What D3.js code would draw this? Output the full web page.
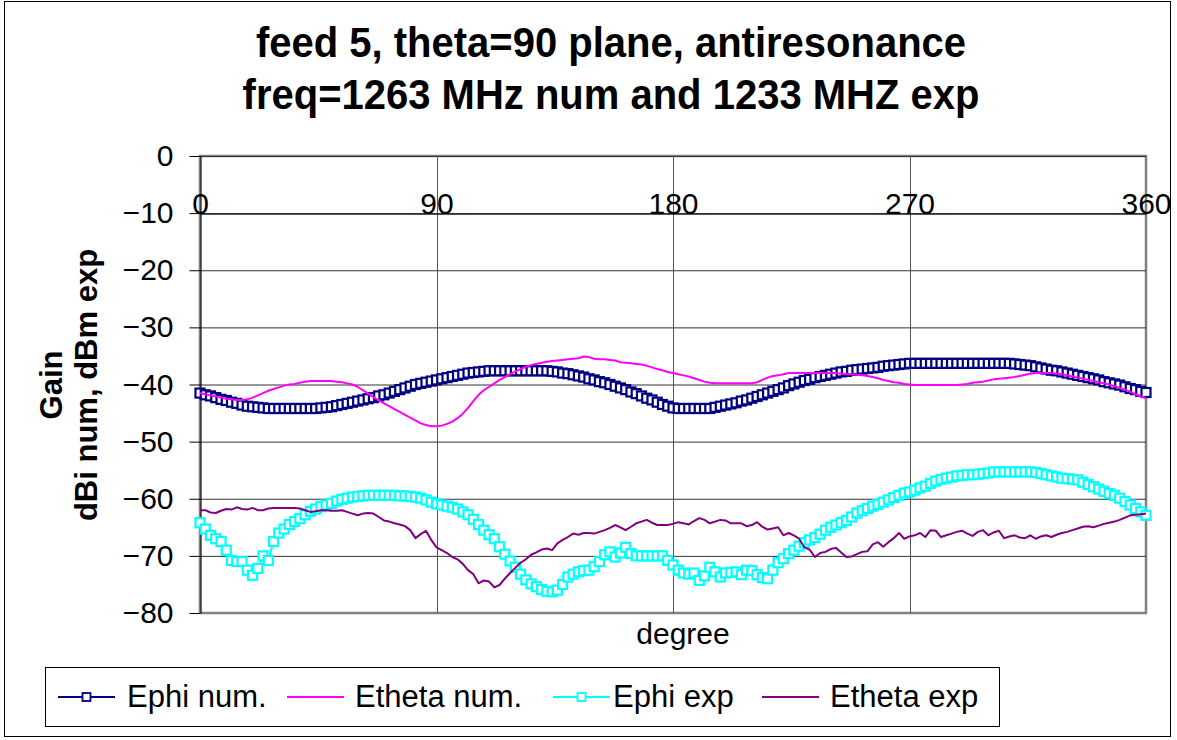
<!DOCTYPE html>
<html><head><meta charset="utf-8">
<script src="https://cdn.jsdelivr.net/npm/d3@7"></script>
<style>
body{margin:0;background:#fff}
svg{display:block}
text{font-family:"Liberation Sans",Arial,sans-serif;fill:#000}
</style>
</head><body>
<svg id="c" width="1177" height="740"></svg>
<script>
const titleLines = ["feed 5, theta=90 plane, antiresonance", "freq=1263 MHz num and 1233 MHZ exp"];
const yLabelLines = ["Gain", "dBi num, dBm exp"];
const xLabel = "degree";
const xTicks = [0, 90, 180, 270, 360];
const yTicks = [0, -10, -20, -30, -40, -50, -60, -70, -80];
const seriesNames = ["Ephi num.", "Etheta num.", "Ephi exp", "Etheta exp"];
const angles = d3.range(0, 361, 2);

const ephiNum = [
-41.5,-41.8,-42.0,-42.3,-42.6,-42.8,-43.1,-43.3,-43.6,-43.8,-43.9,-44.0,-44.1,-44.2,-44.2,
-44.2,-44.2,-44.2,-44.2,-44.2,-44.2,-44.2,-44.2,-44.1,-44.0,-43.9,-43.7,-43.5,-43.3,-43.1,
-42.9,-42.7,-42.5,-42.3,-42.0,-41.8,-41.5,-41.2,-40.9,-40.6,-40.3,-40.0,-39.8,-39.6,-39.4,
-39.2,-39.0,-38.8,-38.6,-38.4,-38.2,-38.0,-37.9,-37.8,-37.7,-37.6,-37.6,-37.6,-37.6,-37.6,
-37.6,-37.6,-37.6,-37.6,-37.6,-37.6,-37.6,-37.7,-37.8,-38.0,-38.1,-38.3,-38.5,-38.7,-39.0,
-39.2,-39.5,-39.7,-40.0,-40.3,-40.6,-40.9,-41.3,-41.6,-42.0,-42.4,-42.7,-43.1,-43.5,-43.8,
-44.1,-44.2,-44.2,-44.2,-44.2,-44.2,-44.2,-44.2,-44.0,-43.8,-43.6,-43.4,-43.2,-42.9,-42.7,
-42.4,-42.1,-41.8,-41.5,-41.2,-40.9,-40.6,-40.2,-39.9,-39.6,-39.3,-39.1,-38.8,-38.6,-38.4,
-38.2,-38.0,-37.8,-37.7,-37.5,-37.4,-37.3,-37.2,-37.1,-37.0,-36.8,-36.7,-36.6,-36.5,-36.4,
-36.3,-36.3,-36.3,-36.3,-36.3,-36.3,-36.3,-36.3,-36.3,-36.3,-36.3,-36.3,-36.3,-36.3,-36.3,
-36.3,-36.3,-36.3,-36.3,-36.3,-36.4,-36.5,-36.6,-36.7,-36.9,-37.1,-37.3,-37.5,-37.6,-37.8,
-38.0,-38.2,-38.4,-38.6,-38.8,-39.0,-39.2,-39.5,-39.7,-39.9,-40.1,-40.4,-40.7,-40.9,-41.2,
-41.4];

const ethetaNum = [
-41.5,-41.7,-41.9,-42.1,-42.3,-42.5,-42.6,-42.7,-42.7,-42.6,-42.3,-41.9,-41.5,-41.1,-40.8,
-40.5,-40.2,-40.0,-39.9,-39.7,-39.5,-39.4,-39.4,-39.4,-39.4,-39.4,-39.5,-39.6,-39.8,-40.0,
-40.4,-41.0,-41.6,-42.2,-42.8,-43.3,-43.8,-44.3,-44.8,-45.3,-45.8,-46.3,-46.8,-47.1,-47.3,
-47.3,-47.2,-46.9,-46.5,-45.9,-45.1,-44.1,-42.9,-41.8,-41.0,-40.4,-39.8,-39.2,-38.7,-38.2,
-37.7,-37.3,-36.9,-36.6,-36.4,-36.2,-36.0,-35.9,-35.8,-35.7,-35.6,-35.5,-35.4,-35.1,-35.2,
-35.5,-35.6,-35.6,-35.7,-35.8,-36.1,-36.2,-36.3,-36.4,-36.5,-36.7,-37.0,-37.3,-37.5,-37.8,
-38.0,-38.2,-38.4,-38.6,-38.9,-39.2,-39.5,-39.7,-39.8,-39.8,-39.8,-39.8,-39.8,-39.8,-39.8,
-39.8,-39.6,-39.2,-38.8,-38.5,-38.4,-38.2,-38.0,-38.0,-38.0,-38.0,-38.0,-38.0,-38.0,-38.0,
-38.0,-38.0,-38.1,-38.2,-38.2,-38.3,-38.4,-38.5,-38.7,-38.9,-39.2,-39.4,-39.6,-39.7,-39.9,
-40.0,-40.1,-40.1,-40.1,-40.1,-40.1,-40.1,-40.1,-40.1,-40.1,-40.0,-39.9,-39.7,-39.6,-39.5,
-39.3,-39.1,-39.0,-38.9,-38.8,-38.7,-38.5,-38.3,-38.1,-38.0,-38.0,-38.0,-38.0,-38.1,-38.2,
-38.4,-38.6,-38.8,-39.0,-39.2,-39.4,-39.6,-39.8,-40.0,-40.3,-40.6,-40.9,-41.3,-41.7,-42.1,
-42.4];

const ephiExp = [
-64.2,-65.3,-66.4,-67.0,-67.5,-69.0,-70.8,-71.0,-71.0,-72.5,-73.4,-72.2,-70.0,-70.8,-67.5,
-66.0,-65.3,-64.5,-64.0,-63.5,-62.8,-62.2,-61.8,-61.4,-61.1,-60.8,-60.4,-60.1,-59.9,-59.7,
-59.6,-59.5,-59.4,-59.4,-59.4,-59.4,-59.4,-59.4,-59.5,-59.5,-59.6,-59.7,-59.9,-60.2,-60.6,
-60.9,-61.1,-61.3,-61.5,-61.8,-62.3,-62.8,-63.6,-64.5,-65.5,-66.3,-67.0,-68.4,-69.7,-70.9,
-72.0,-73.2,-74.2,-74.9,-75.4,-75.9,-76.2,-76.3,-76.0,-75.0,-73.7,-73.2,-72.8,-72.6,-72.5,
-71.9,-71.0,-69.8,-69.3,-70.2,-69.5,-68.5,-69.6,-70.0,-70.0,-70.0,-70.0,-70.0,-70.0,-70.8,
-71.6,-72.5,-73.0,-73.2,-73.0,-74.3,-73.5,-72.0,-72.8,-73.7,-73.0,-72.9,-72.8,-73.3,-72.5,
-72.6,-73.3,-73.8,-74.0,-72.5,-71.2,-70.5,-69.6,-69.0,-68.3,-67.7,-67.2,-66.8,-66.2,-65.5,
-65.0,-64.6,-64.2,-63.8,-63.2,-62.5,-62.1,-61.7,-61.3,-61.0,-60.6,-60.2,-59.8,-59.4,-59.0,
-58.8,-58.5,-58.1,-57.8,-57.3,-56.9,-56.6,-56.4,-56.2,-56.0,-55.9,-55.8,-55.8,-55.7,-55.6,
-55.5,-55.3,-55.3,-55.3,-55.3,-55.3,-55.3,-55.3,-55.3,-55.4,-55.6,-55.8,-56.0,-56.2,-56.4,
-56.5,-56.6,-56.7,-57.1,-57.5,-57.9,-58.3,-58.7,-59.1,-59.4,-59.9,-60.5,-61.1,-61.7,-62.3,
-62.9];

const ethetaExp = [
-62.0,-62.0,-62.4,-62.5,-62.1,-61.8,-61.9,-61.5,-61.8,-61.9,-61.6,-62.0,-62.0,-61.7,-61.6,
-61.6,-61.6,-61.6,-61.6,-61.7,-62.0,-62.3,-62.2,-62.0,-62.0,-62.1,-62.1,-62.0,-62.3,-62.6,
-62.9,-62.6,-62.5,-62.6,-63.2,-63.8,-64.0,-64.3,-64.5,-64.8,-65.5,-66.9,-66.2,-65.6,-67.2,
-68.5,-69.0,-69.5,-70.2,-70.6,-71.4,-72.5,-73.2,-74.8,-74.3,-74.5,-75.5,-75.1,-74.0,-73.0,
-72.1,-71.2,-70.6,-69.8,-69.4,-68.9,-68.7,-69.0,-67.8,-67.2,-66.7,-66.1,-66.3,-66.0,-66.0,
-66.1,-65.8,-65.5,-65.1,-64.6,-65.0,-65.5,-64.9,-64.3,-64.0,-63.7,-64.2,-64.6,-64.6,-64.6,
-64.4,-64.1,-64.3,-64.5,-63.9,-63.4,-63.7,-64.3,-64.0,-63.7,-63.8,-64.3,-64.3,-64.3,-64.8,
-64.6,-64.1,-64.9,-65.4,-65.2,-65.0,-66.4,-66.0,-66.4,-67.0,-68.5,-68.9,-70.2,-69.5,-69.3,
-68.8,-68.6,-69.4,-70.2,-70.1,-69.7,-69.3,-69.2,-68.0,-67.6,-68.4,-67.6,-66.9,-66.0,-67.0,
-66.6,-66.4,-66.0,-66.7,-65.5,-65.6,-66.7,-66.4,-66.1,-65.8,-65.6,-66.1,-66.5,-65.8,-65.5,
-66.4,-65.9,-65.6,-66.9,-66.6,-66.4,-66.8,-66.9,-66.4,-67.0,-66.6,-66.4,-66.7,-66.3,-66.0,
-65.8,-65.5,-65.2,-64.9,-64.8,-65.0,-64.7,-64.4,-64.2,-64.0,-63.7,-63.3,-62.9,-62.8,-62.7,
-62.6];

const seriesColors = ["#000080", "#FF00FF", "#00FFFF", "#800080"];
const seriesMarkers = [true, false, true, false];
const seriesValues = [ephiNum, ethetaNum, ephiExp, ethetaExp];

const svg = d3.select("#c");
const L = 200, R = 1146, T = 156, B = 613;
const x = d3.scaleLinear().domain([0, 360]).range([L, R]);
const y = d3.scaleLinear().domain([-80, 0]).range([B, T]);

svg.append("rect").attr("x", 0).attr("y", 0).attr("width", 1177).attr("height", 740).attr("fill", "#fff");
svg.append("rect").attr("x", 4.5).attr("y", 1.5).attr("width", 1166).attr("height", 735)
  .attr("fill", "none").attr("stroke", "#000").attr("stroke-width", 1);

// title
svg.append("g").selectAll("text").data(titleLines).join("text")
  .attr("transform", (d, i) => `translate(611,${57 + i * 52}) scale(1,1.08)`)
  .attr("text-anchor", "middle").attr("font-size", 40).attr("font-weight", "bold")
  .text(d => d);

// plot area border
svg.append("rect").attr("x", L).attr("y", T).attr("width", R - L).attr("height", B - T)
  .attr("fill", "#fff").attr("stroke", "#808080").attr("stroke-width", 2.5);

// gridlines
svg.append("g").selectAll("line").data(yTicks.filter(v => v !== -80)).join("line")
  .attr("x1", L).attr("x2", R).attr("y1", d => y(d) + 0.5).attr("y2", d => y(d) + 0.5)
  .attr("stroke", "#333").attr("stroke-width", 1);
svg.append("g").selectAll("line").data(xTicks.filter(v => v > 0 && v < 360)).join("line")
  .attr("x1", d => Math.round(x(d)) + 0.5).attr("x2", d => Math.round(x(d)) + 0.5)
  .attr("y1", T).attr("y2", B).attr("stroke", "#555").attr("stroke-width", 1);

// y axis
const yAxis = svg.append("g").attr("transform", `translate(${L + 0.5},0)`)
  .call(d3.axisLeft(y).tickValues(yTicks).tickSize(11).tickSizeOuter(0).tickPadding(16).tickFormat(d3.format("d")));
yAxis.selectAll("text").attr("font-size", 30).attr("font-family", "Liberation Sans, Arial, sans-serif");
yAxis.selectAll("line,path").attr("stroke", "#000");

// x axis at -10
const xAxis = svg.append("g").attr("transform", `translate(0,${y(-10) + 0.5})`)
  .call(d3.axisTop(x).tickValues(xTicks).tickSize(0).tickSizeOuter(0).tickPadding(0).tickFormat(d3.format("d")));
xAxis.selectAll("text").attr("font-size", 30).attr("font-family", "Liberation Sans, Arial, sans-serif").attr("dy", "0");
xAxis.selectAll("line,path").attr("stroke", "#000");

// series
const line = d3.line().x((d, i) => x(angles[i])).y(d => y(d));
const ms = 9;
seriesValues.forEach((vals, s) => {
  const g = svg.append("g");
  g.append("path").datum(vals).attr("d", line).attr("fill", "none")
    .attr("stroke", seriesColors[s]).attr("stroke-width", 2).attr("stroke-linejoin", "round");
  if (seriesMarkers[s]) {
    g.selectAll("rect").data(vals).join("rect")
      .attr("x", (d, i) => x(angles[i]) - ms / 2).attr("y", d => y(d) - ms / 2)
      .attr("width", ms).attr("height", ms)
      .attr("fill", "#fff").attr("stroke", seriesColors[s]).attr("stroke-width", 2.2);
  }
});

// axis titles
svg.append("text").attr("x", 683).attr("y", 644).attr("text-anchor", "middle")
  .attr("font-size", 30).text(xLabel);
svg.append("g").selectAll("text").data(yLabelLines).join("text")
  .attr("transform", (d, i) => `translate(${62 + i * 35},385) rotate(-90)`)
  .attr("text-anchor", "middle").attr("font-size", 31).attr("font-weight", "bold")
  .text(d => d);

// legend
const legX = [58, 287, 553, 762];
const legTextX = [127, 355, 613, 830];
const legY = 697;
svg.append("rect").attr("x", 45.5).attr("y", 667.5).attr("width", 954).attr("height", 59)
  .attr("fill", "#fff").attr("stroke", "#000").attr("stroke-width", 1);
const leg = svg.append("g").selectAll("g").data(seriesNames).join("g");
leg.append("line").attr("x1", (d, i) => legX[i]).attr("x2", (d, i) => legX[i] + 57)
  .attr("y1", legY).attr("y2", legY).attr("stroke", (d, i) => seriesColors[i]).attr("stroke-width", 2);
leg.filter((d, i) => seriesMarkers[i]).append("rect")
  .attr("x", 0).attr("y", legY - 4).attr("width", 8).attr("height", 8)
  .attr("transform", function(d) { const i = seriesNames.indexOf(d); return `translate(${legX[i] + 28.5 - 4},0)`; })
  .attr("fill", "#fff").attr("stroke", (d) => seriesColors[seriesNames.indexOf(d)]).attr("stroke-width", 1.8);
leg.append("text").attr("x", (d, i) => legTextX[i]).attr("y", legY + 10)
  .attr("font-size", 31).text(d => d);
</script>
</body></html>
